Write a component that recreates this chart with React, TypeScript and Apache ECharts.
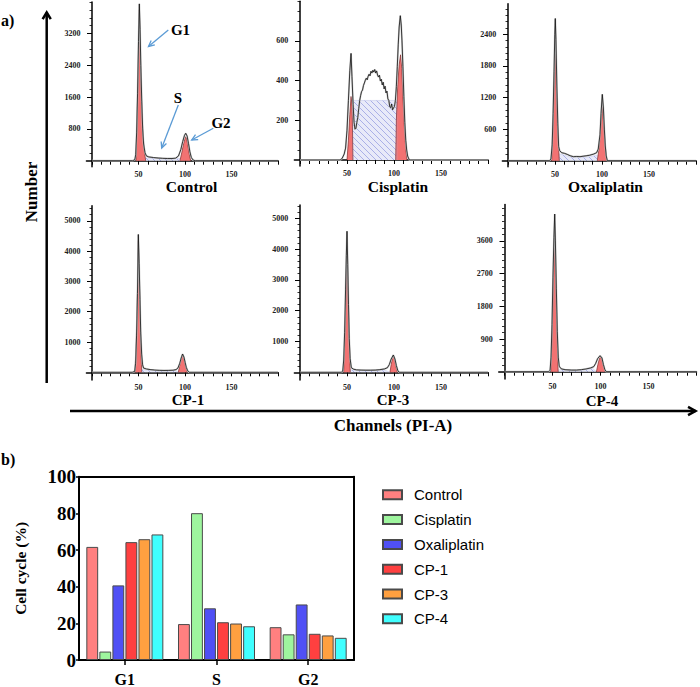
import React, { useEffect, useRef } from "react";
import * as echarts from "echarts";

// ---------- histogram axes ----------
const CHANNEL_TICKS = [0, 10, 20, 30, 40, 50, 60, 70, 80, 90, 100, 110, 120, 130, 140, 150, 160, 170, 180, 190, 200];
const CHANNEL_LABELS = [50, 100, 150];

// ---------- Control ----------
const CONTROL_OUTLINE = [[0, 0], [43.5, 0], [46, 20], [47, 150], [48, 700], [49, 1700], [50, 3000], [50.9, 3950], [51.7, 3300], [52.5, 2400], [53.5, 1500], [54.5, 800], [55.5, 420], [57, 200], [58.5, 120], [61, 95], [66, 80], [71, 68], [76, 60], [81, 55], [86, 55], [90, 65], [93, 120], [95.5, 280], [97.5, 480], [99.5, 640], [100.8, 690], [102.3, 620], [103.8, 430], [105.3, 220], [106.8, 80], [108.8, 15], [111, 0], [200, 0]];
const CONTROL_G1 = [[47.3, 0], [48.5, 1000], [49.8, 2500], [50.9, 3800], [51.8, 2900], [53, 1700], [54.5, 800], [56, 300], [57.7, 0]];
const CONTROL_G2 = [[94.6, 0], [96.5, 200], [98.5, 430], [100.5, 600], [101.5, 580], [103, 400], [104.5, 180], [106.1, 0]];
const CONTROL_S = [[57.7, 0], [57.7, 70], [65, 62], [75, 52], [85, 48], [94.6, 55], [94.6, 0]];
const CONTROL_Y_LABELS = [800, 1600, 2400, 3200];

// ---------- Cisplatin ----------
const CISPLATIN_OUTLINE = [[0, 0], [43, 0], [45, 10], [47, 30], [48.5, 60], [50, 150], [51.5, 300], [53, 450], [54.3, 537], [55.3, 420], [56.5, 280], [57.5, 190], [58.5, 155], [59.5, 160], [60.5, 190], [61.5, 215], [62.5, 260], [63.5, 300], [64.5, 325], [65.5, 345], [66.5, 352], [67.5, 375], [68.5, 388], [69.5, 402], [70.5, 412], [71.5, 404], [72.5, 422], [73.5, 432], [74.5, 424], [75.5, 447], [76.5, 438], [77.5, 452], [78.5, 443], [79.5, 456], [80.5, 438], [81.5, 449], [82.5, 428], [83.5, 418], [84.5, 427], [85.5, 398], [86.5, 407], [87.5, 378], [88.5, 392], [89.5, 358], [90.5, 372], [91.5, 338], [92.5, 347], [93.5, 308], [94.5, 300], [95.5, 268], [96.5, 264], [97.5, 282], [98.5, 253], [99.5, 262], [100.5, 270], [101.5, 300], [102.5, 370], [103.5, 470], [104.5, 580], [105.5, 670], [106.7, 727], [107.7, 680], [108.5, 600], [109.5, 470], [110.5, 320], [111.5, 190], [112.5, 100], [113.5, 50], [114.5, 20], [116.3, 0], [200, 0]];
const CISPLATIN_G1 = [[50, 0], [51.5, 100], [53, 230], [54.3, 320], [55.5, 270], [56.3, 0]];
const CISPLATIN_G2 = [[101.8, 0], [102.5, 200], [104, 380], [105.5, 480], [107, 530], [108.3, 460], [109.5, 320], [111, 170], [112.5, 60], [113.8, 0]];
const CISPLATIN_S = [[56, 0], [56, 300], [103, 300], [103, 0]];
const CISPLATIN_Y_LABELS = [200, 400, 600];

// ---------- Oxaliplatin ----------
const OXALIPLATIN_OUTLINE = [[0, 0], [44, 0], [45.7, 30], [47, 300], [48, 900], [49, 1700], [49.8, 2400], [50.3, 2700], [51, 2300], [52, 1400], [53, 700], [53.9, 266], [55, 190], [57, 152], [60, 140], [63, 120], [66, 95], [69.5, 76], [73, 80], [76.6, 76], [80, 85], [84, 95], [87, 104], [91, 125], [94.3, 152], [96, 220], [97.9, 500], [99, 900], [100.3, 1260], [101.5, 1000], [102.5, 600], [103.5, 280], [104.5, 90], [105.7, 0], [200, 0]];
const OXALIPLATIN_G1 = [[46.4, 0], [47.8, 600], [49, 1400], [50.3, 2230], [51.3, 1500], [52.5, 700], [54.6, 0]];
const OXALIPLATIN_G2 = [[95, 0], [97, 250], [98.8, 700], [100.3, 1025], [101.8, 700], [103.3, 300], [105, 0]];
const OXALIPLATIN_S = [[54.6, 0], [54.6, 130], [60, 105], [66, 72], [72, 58], [80, 62], [88, 78], [95, 110], [95, 0]];
const OXALIPLATIN_Y_LABELS = [600, 1200, 1800, 2400];

// ---------- CP-1 ----------
const CP1_OUTLINE = [[0, 0], [43.4, 0], [45.9, 30], [46.9, 300], [47.9, 1200], [48.9, 2600], [49.8, 4550], [50.7, 3600], [51.6, 2400], [52.4, 1300], [53.4, 600], [54.4, 250], [55.4, 140], [58.4, 110], [62.4, 90], [67.4, 75], [72.4, 65], [77.4, 60], [82.4, 62], [87.4, 70], [90.4, 90], [92.4, 140], [94.4, 300], [95.9, 470], [97.4, 604], [98.9, 500], [100.2, 320], [101.4, 160], [102.9, 50], [104.4, 0], [200, 0]];
const CP1_G1 = [[46.2, 0], [47.6, 1000], [48.9, 2700], [49.8, 4350], [50.9, 3000], [51.9, 1700], [52.7, 700], [53.5, 0]];
const CP1_G2 = [[92.8, 0], [94.5, 250], [96, 460], [97.3, 590], [98.8, 450], [100.4, 230], [102.5, 0]];
const CP1_S = [[53.5, 0], [53.8, 90], [62, 65], [72, 50], [82, 50], [90, 65], [92.8, 0]];
const CP1_Y_LABELS = [1000, 2000, 3000, 4000, 5000];

// ---------- CP-3 ----------
const CP3_OUTLINE = [[0, 0], [44, 0], [45.5, 40], [46.5, 400], [47.5, 1300], [48.5, 2700], [49.3, 3800], [50, 4580], [50.8, 3500], [51.6, 2200], [52.4, 1100], [53.3, 450], [54.6, 150], [57, 100], [60, 80], [65, 72], [70, 68], [75, 68], [80, 72], [85, 85], [90, 110], [93, 150], [95, 250], [97, 430], [99.3, 562], [101, 430], [102.5, 220], [104, 60], [105.5, 0], [200, 0]];
const CP3_G1 = [[46.4, 0], [47.5, 900], [48.8, 2500], [50, 4190], [51, 2800], [52.2, 1300], [53.5, 0]];
const CP3_G2 = [[95.7, 0], [97, 250], [98.3, 450], [99.5, 545], [100.7, 420], [102, 200], [103.6, 0]];
const CP3_S = [[53.5, 0], [54, 80], [60, 55], [70, 50], [80, 52], [90, 75], [95.7, 0]];
const CP3_Y_LABELS = [1000, 2000, 3000, 4000, 5000];

// ---------- CP-4 ----------
const CP4_OUTLINE = [[0, 0], [46, 0], [47.5, 40], [48.5, 400], [49.5, 1300], [50.5, 2600], [51.5, 3700], [52.3, 4340], [53, 3600], [54, 2300], [55, 1100], [56, 400], [57, 150], [59, 80], [63, 55], [70, 45], [75, 45], [80, 55], [85, 75], [90, 105], [93, 140], [95, 230], [97, 360], [99.5, 440], [101.5, 380], [103, 200], [104.5, 60], [106, 0], [200, 0]];
const CP4_G1 = [[48.2, 0], [49.5, 900], [50.8, 2300], [52.2, 3900], [53.2, 2800], [54.5, 1300], [55.9, 0]];
const CP4_G2 = [[95.8, 0], [97.3, 200], [98.8, 350], [100, 420], [101.5, 330], [103, 160], [104.8, 0]];
const CP4_S = [[56, 0], [56.5, 55], [65, 36], [75, 36], [85, 55], [92, 90], [95.8, 0]];
const CP4_Y_LABELS = [900, 1800, 2700, 3600];

// ---------- bar chart ----------
const PHASES = ["G1", "S", "G2"];
const TREATMENTS = ["Control", "Cisplatin", "Oxaliplatin", "CP-1", "CP-3", "CP-4"];
const CONTROL_PCT = [61.7, 19.6, 17.9];
const CISPLATIN_PCT = [4.6, 80.1, 14.0];
const OXALIPLATIN_PCT = [40.7, 28.2, 30.3];
const CP1_PCT = [64.3, 20.6, 14.3];
const CP3_PCT = [65.9, 19.9, 13.4];
const CP4_PCT = [68.5, 18.4, 12.1];

const BAR_VALUES = [CONTROL_PCT, CISPLATIN_PCT, OXALIPLATIN_PCT, CP1_PCT, CP3_PCT, CP4_PCT];
const BAR_COLORS = ["#FF8080", "#9EF59E", "#5050F5", "#FF4040", "#FFA040", "#40FFFF"];

const SERIF = '"Liberation Serif", "Times New Roman", serif';
const SANS = '"Liberation Sans", Arial, sans-serif';

const PANELS = [
  { title: "Control", outline: CONTROL_OUTLINE, g1: CONTROL_G1, g2: CONTROL_G2, s: CONTROL_S, yLabels: CONTROL_Y_LABELS, minorStep: 200, yMin: -150, yMax: 4000, ch0: 92, pxPerCh: 0.93, y0: 160.7, pxPerCount: 0.0397, tx: 191.5, ty: 186, ts: 15.5, lm: 3.5 },
  { title: "Cisplatin", outline: CISPLATIN_OUTLINE, g1: CISPLATIN_G1, g2: CISPLATIN_G2, s: CISPLATIN_S, yLabels: CISPLATIN_Y_LABELS, minorStep: 50, yMin: -30, yMax: 800, ch0: 300, pxPerCh: 0.94, y0: 160, pxPerCount: 0.1985, tx: 398, ty: 186.5, ts: 15.5, lm: 3.5 },
  { title: "Oxaliplatin", outline: OXALIPLATIN_OUTLINE, g1: OXALIPLATIN_G1, g2: OXALIPLATIN_G2, s: OXALIPLATIN_S, yLabels: OXALIPLATIN_Y_LABELS, minorStep: 120, yMin: -115, yMax: 2980, ch0: 508, pxPerCh: 0.94, y0: 160.7, pxPerCount: 0.05267, tx: 605.5, ty: 186.5, ts: 15.5, lm: 3.5 },
  { title: "CP-1", outline: CP1_OUTLINE, g1: CP1_G1, g2: CP1_G2, s: CP1_S, yLabels: CP1_Y_LABELS, minorStep: 200, yMin: -250, yMax: 5500, ch0: 92, pxPerCh: 0.93, y0: 372.3, pxPerCount: 0.0303, tx: 188, ty: 400, ts: 15, lm: 3.5 },
  { title: "CP-3", outline: CP3_OUTLINE, g1: CP3_G1, g2: CP3_G2, s: CP3_S, yLabels: CP3_Y_LABELS, minorStep: 200, yMin: -250, yMax: 5430, ch0: 300, pxPerCh: 0.94, y0: 372.3, pxPerCount: 0.0308, tx: 393, ty: 400, ts: 15, lm: 3.5 },
  { title: "CP-4", outline: CP4_OUTLINE, g1: CP4_G1, g2: CP4_G2, s: CP4_S, yLabels: CP4_Y_LABELS, minorStep: 180, yMin: -200, yMax: 4600, ch0: 504.5, pxPerCh: 0.96, y0: 371.7, pxPerCount: 0.03633, tx: 602, ty: 400.5, ts: 15, lm: 3.5 },
];

const X_MIN = -6;
const X_MAX = 200;

function makeHatch() {
  const c = document.createElement("canvas");
  c.width = 6;
  c.height = 6;
  const ctx = c.getContext("2d");
  if (ctx) {
    ctx.fillStyle = "#e8eaf9";
    ctx.fillRect(0, 0, 6, 6);
    ctx.strokeStyle = "#a3a9e4";
    ctx.lineWidth = 0.9;
    ctx.beginPath();
    ctx.moveTo(-1, -1);
    ctx.lineTo(7, 7);
    ctx.moveTo(-1, 5);
    ctx.lineTo(1, 7);
    ctx.moveTo(5, -1);
    ctx.lineTo(7, 1);
    ctx.stroke();
  }
  return { image: c, repeat: "repeat", imageWidth: 6, imageHeight: 6 } as any;
}

function head(x1: number, y1: number, x2: number, y2: number, len: number, ang: number) {
  const a = Math.atan2(y2 - y1, x2 - x1);
  return [
    [x2 - len * Math.cos(a - ang), y2 - len * Math.sin(a - ang)],
    [x2, y2],
    [x2 - len * Math.cos(a + ang), y2 - len * Math.sin(a + ang)],
  ];
}

function arrow(x1: number, y1: number, x2: number, y2: number, color: string, width: number, len: number, ang: number) {
  return [
    { type: "line", shape: { x1, y1, x2, y2 }, style: { stroke: color, lineWidth: width }, silent: true },
    { type: "polyline", shape: { points: head(x1, y1, x2, y2, len, ang) }, style: { stroke: color, lineWidth: width, fill: null }, silent: true },
  ];
}

function text(str: string, x: number, y: number, size: number, opts: any = {}) {
  return {
    type: "text",
    x,
    y,
    rotation: opts.rotation || 0,
    silent: true,
    style: {
      text: str,
      x: 0,
      y: 0,
      fill: "#000",
      font: `bold ${size}px ${opts.family || SERIF}`,
      align: opts.align || "center",
      verticalAlign: "middle",
      textAlign: opts.align || "center",
      textVerticalAlign: "middle",
    },
  };
}

const plain = (v: number) => String(v);

export default function App() {
  const ref = useRef<HTMLDivElement>(null);

  useEffect(() => {
    if (!ref.current) return;
    const chart = echarts.init(ref.current, null, { renderer: "svg" });
    const hatch = makeHatch();

    const grids: any[] = [];
    const xAxes: any[] = [];
    const yAxes: any[] = [];
    const series: any[] = [];
    const graphics: any[] = [];

    PANELS.forEach((p, i) => {
      grids.push({
        left: p.ch0 + X_MIN * p.pxPerCh,
        width: (X_MAX - X_MIN) * p.pxPerCh,
        top: p.y0 - p.yMax * p.pxPerCount,
        height: (p.yMax - p.yMin) * p.pxPerCount,
        show: false,
      });
      xAxes.push({
        type: "value",
        gridIndex: i,
        min: X_MIN,
        max: X_MAX,
        axisLine: { show: true, onZero: true, onZeroAxisIndex: 2 * i, lineStyle: { color: "#000", width: 1.5 } },
        axisTick: { show: true, customValues: CHANNEL_TICKS, length: 4, lineStyle: { color: "#000", width: 1 } },
        axisLabel: { show: true, customValues: CHANNEL_LABELS, formatter: plain, margin: p.lm, fontSize: 8, lineHeight: 8, fontWeight: "bold", fontFamily: SERIF, color: "#222" },
        splitLine: { show: false },
      });
      const minor: number[] = [];
      for (let v = p.minorStep; v <= p.yMax; v += p.minorStep) {
        if (p.yLabels.indexOf(v) < 0) minor.push(v);
      }
      yAxes.push({
        type: "value",
        gridIndex: i,
        min: p.yMin,
        max: p.yMax,
        axisLine: { show: true, onZero: true, onZeroAxisIndex: i, lineStyle: { color: "#000", width: 1.5 } },
        axisTick: { show: true, customValues: p.yLabels, length: 5, lineStyle: { color: "#000", width: 1 } },
        axisLabel: { show: true, customValues: p.yLabels, formatter: plain, margin: 6, fontSize: 8, lineHeight: 8, fontWeight: "bold", fontFamily: SERIF, color: "#222" },
        splitLine: { show: false },
      });
      yAxes.push({
        type: "value",
        gridIndex: i,
        min: p.yMin,
        max: p.yMax,
        position: "left",
        axisLine: { show: false, onZero: true, onZeroAxisIndex: i },
        axisTick: { show: true, customValues: minor, length: 2.5, lineStyle: { color: "#000", width: 0.8 } },
        axisLabel: { show: false },
        splitLine: { show: false },
      });
      const base = { type: "line", xAxisIndex: i, yAxisIndex: 2 * i, symbol: "none", showSymbol: false, silent: true, animation: false };
      series.push({ ...base, data: p.s, lineStyle: { width: 0.4, color: "#b3b8e6" }, areaStyle: { color: hatch, opacity: 1 } });
      series.push({ ...base, data: p.g1, lineStyle: { width: 0.7, color: "#7a2626" }, areaStyle: { color: "#F27272", opacity: 1 } });
      series.push({ ...base, data: p.g2, lineStyle: { width: 0.7, color: "#7a2626" }, areaStyle: { color: "#F27272", opacity: 1 } });
      series.push({ ...base, data: p.outline, lineStyle: { width: 1.8, color: "#c8c8c8" } });
      series.push({ ...base, data: p.outline, lineStyle: { width: 0.8, color: "#111" } });
      graphics.push(text(p.title, p.tx, p.ty, p.ts));
    });

    // bar chart
    const bi = PANELS.length;
    grids.push({ left: 79, top: 476.7, width: 275, height: 183.3, show: false });
    xAxes.push({
      type: "category",
      gridIndex: bi,
      data: PHASES,
      axisLine: { show: true, onZero: false, lineStyle: { color: "#000", width: 2 } },
      axisTick: { show: true, alignWithLabel: true, length: 5, lineStyle: { color: "#000", width: 1.5 } },
      axisLabel: { fontSize: 16, fontWeight: "bold", fontFamily: SERIF, color: "#000", margin: 11 },
      splitLine: { show: false },
    });
    // top frame line of the bar plot
    xAxes.push({
      type: "category",
      gridIndex: bi,
      data: PHASES,
      position: "top",
      axisLine: { show: true, onZero: false, lineStyle: { color: "#000", width: 2 } },
      axisTick: { show: false },
      axisLabel: { show: false },
      splitLine: { show: false },
    });
    const barY = yAxes.length;
    yAxes.push({
      type: "value",
      gridIndex: bi,
      min: 0,
      max: 100,
      interval: 20,
      axisLine: { show: true, onZero: false, lineStyle: { color: "#000", width: 2 } },
      axisTick: { show: true, length: 3, lineStyle: { color: "#000", width: 1.5 } },
      axisLabel: { fontSize: 19, fontWeight: "bold", fontFamily: SERIF, color: "#000", margin: 3 },
      splitLine: { show: false },
      name: "Cell cycle (%)",
      nameLocation: "middle",
      nameGap: 51,
      nameTextStyle: { fontSize: 15.5, fontWeight: "bold", fontFamily: SERIF, color: "#000" },
    });
    // right frame line of the bar plot
    yAxes.push({
      type: "value",
      gridIndex: bi,
      min: 0,
      max: 100,
      position: "right",
      axisLine: { show: true, onZero: false, lineStyle: { color: "#000", width: 2 } },
      axisTick: { show: false },
      axisLabel: { show: false },
      splitLine: { show: false },
    });
    TREATMENTS.forEach((name, k) => {
      series.push({
        type: "bar",
        name,
        xAxisIndex: bi,
        yAxisIndex: barY,
        data: BAR_VALUES[k],
        barGap: "10%",
        barCategoryGap: "16%",
        itemStyle: { color: BAR_COLORS[k], borderColor: "#4a4a4a", borderWidth: 1 },
        animation: false,
      });
    });

    // annotation on Control
    const blue = "#5b9bd5";
    graphics.push(text("G1", 180.5, 30, 15));
    graphics.push(...arrow(168.3, 30, 148.5, 46.5, blue, 1.3, 6.5, 0.45));
    graphics.push(text("S", 178, 98, 15));
    graphics.push(...arrow(178.3, 105, 161.7, 148, blue, 1.3, 6.5, 0.45));
    graphics.push(text("G2", 221, 122.5, 15));
    graphics.push(...arrow(213.3, 128.3, 191.7, 140, blue, 1.3, 6.5, 0.45));

    // big axes
    graphics.push(...arrow(46.7, 383, 46.7, 12.5, "#000", 2.5, 7.8, 0.55));
    graphics.push(...arrow(70, 411, 695.5, 411, "#000", 2.5, 8.5, 0.5));
    graphics.push(text("Number", 31, 192, 17, { rotation: Math.PI / 2 }));
    graphics.push(text("Channels (PI-A)", 393, 425.5, 17));
    graphics.push(text("a)", 1, 20, 16, { align: "left" }));
    graphics.push(text("b)", 1, 459, 16, { align: "left" }));

    chart.setOption({
      animation: false,
      backgroundColor: "#fff",
      grid: grids,
      xAxis: xAxes,
      yAxis: yAxes,
      series,
      legend: {
        data: TREATMENTS,
        orient: "vertical",
        left: 377,
        top: 482.3,
        itemWidth: 19,
        itemHeight: 9,
        itemGap: 9.8,
        icon: "rect",
        selectedMode: false,
        textStyle: { fontFamily: SANS, fontSize: 15, color: "#000", lineHeight: 15, padding: [0, 0, 0, 7] },
      },
      graphic: graphics,
    });

    return () => chart.dispose();
  }, []);

  return <div ref={ref} style={{ position: "absolute", left: 0, top: 0, width: 700, height: 687 }} />;
}
